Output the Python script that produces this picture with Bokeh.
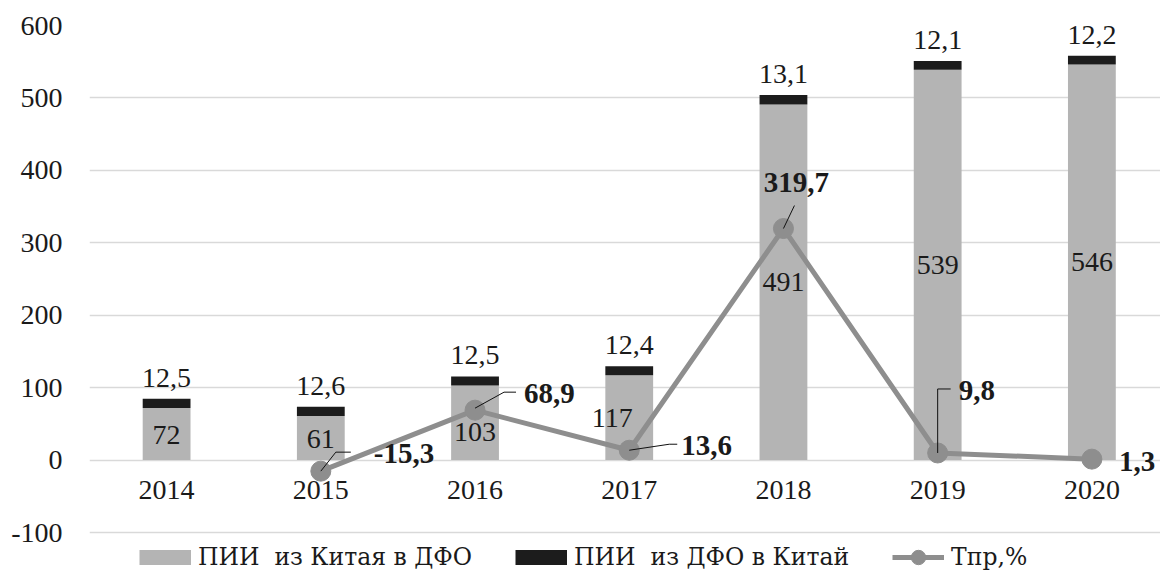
from bokeh.plotting import figure
from bokeh.models import FixedTicker, Legend, LegendItem, Range1d
from bokeh.core.properties import value
from bokeh.embed import file_html
from bokeh.resources import INLINE

# ---------------- data ----------------
years = ["2014", "2015", "2016", "2017", "2018", "2019", "2020"]
china_to_dfo = [72, 61, 103, 117, 491, 539, 546]          # ПИИ из Китая в ДФО
dfo_to_china = [12.5, 12.6, 12.5, 12.4, 13.1, 12.1, 12.2]  # ПИИ из ДФО в Китай
growth = [None, -15.3, 68.9, 13.6, 319.7, 9.8, 1.3]        # Тпр,%
y_ticks = [-100, 0, 100, 200, 300, 400, 500, 600]
legend_names = ["ПИИ  из Китая в ДФО", "ПИИ  из ДФО в Китай", "Тпр,%"]

# ---------------- styles ----------------
FONT = "Liberation Serif"
CYR_FONT = "DejaVu Serif"        # serif face with Cyrillic glyphs
FS = "28px"
FSB = "29px"
FS_LEG = "23.5px"
TXT = "#1a1a1a"
GRAY_BAR = "#b4b4b4"
DARK_BAR = "#1c1c1c"
LINE_COL = "#8e8e8e"
GRID_COL = "#d9d9d9"

W, H = 1160, 575
BL, BT, BB = 89, 25, 0
X0, X1 = -0.5, 6.445
Y1 = 600
ky = 507 / 700.0                  # px per y unit (600 -> -100 spans 507 px)
Y0 = Y1 - (H - BT - BB) / ky      # extend below -100 to host the legend
kx = (W - BL) / (X1 - X0)         # px per x unit

def fmt(v):
    return str(v).replace(".", ",")

p = figure(width=W, height=H, x_range=Range1d(X0, X1), y_range=Range1d(Y0, Y1),
           output_backend="svg", toolbar_location=None, x_axis_location=None,
           min_border_left=BL, min_border_right=0, min_border_top=BT,
           min_border_bottom=BB)
p.outline_line_color = None
p.background_fill_color = "white"
p.border_fill_color = "white"

p.xgrid.visible = False
p.ygrid.grid_line_color = GRID_COL
p.ygrid.grid_line_width = 1.5
p.ygrid.ticker = FixedTicker(ticks=y_ticks)

ax = p.yaxis[0]
ax.ticker = FixedTicker(ticks=y_ticks)
ax.major_label_overrides = {t: str(t) for t in y_ticks}
ax.axis_line_color = None
ax.major_tick_line_color = None
ax.minor_tick_line_color = None
ax.major_tick_out = 0
ax.major_tick_in = 0
ax.major_label_standoff = 27
ax.major_label_text_font = FONT
ax.major_label_text_font_size = FS
ax.major_label_text_color = TXT

xs = list(range(len(years)))
tops = [a + b for a, b in zip(china_to_dfo, dfo_to_china)]

p.vbar(x=xs, bottom=0, top=china_to_dfo, width=0.31, fill_color=GRAY_BAR, line_color=None)
p.vbar(x=xs, bottom=china_to_dfo, top=tops, width=0.31, fill_color=DARK_BAR, line_color=None)

gx = [i for i, g in enumerate(growth) if g is not None]
gy = [g for g in growth if g is not None]
r_line = p.line(gx, gy, line_width=5, line_color=LINE_COL, line_join="round")
r_pts = p.scatter(gx, gy, size=20, fill_color=LINE_COL, line_color=LINE_COL)

# year labels at the zero line
p.text(x=xs, y=[0] * len(xs), text=years, text_font=value(FONT), text_font_size=FS,
       text_color=TXT, text_align="center", text_baseline="middle", y_offset=30)

# gray segment labels (centered), with small manual shifts
gdx = [0, 0, 0, -17, 0, 0, 0]
gdy = [1, 1, 9, 0, 0, 0, 0]
p.text(x=xs, y=[v / 2 for v in china_to_dfo], text=[fmt(v) for v in china_to_dfo],
       text_font=value(FONT), text_font_size=FS, text_color=TXT,
       text_align="center", text_baseline="middle", x_offset=gdx, y_offset=gdy)

# dark segment labels above bars
p.text(x=xs, y=tops, text=[fmt(v) for v in dfo_to_china],
       text_font=value(FONT), text_font_size=FS, text_color=TXT,
       text_align="center", text_baseline="middle", y_offset=-21)

# growth labels (bold) with leader lines
lab_dx = [53, 49, 52, 13, 21, 27]
lab_dy = [-18, -17, -5, -46, -62, 2]
lab_align = ["left", "left", "left", "center", "left", "left"]
p.text(x=gx, y=gy, text=[fmt(v) for v in gy], text_font=value(FONT), text_font_size=FSB,
       text_font_style="bold", text_color=TXT, text_align=lab_align,
       text_baseline="middle", x_offset=lab_dx, y_offset=lab_dy)

leaders_px = [
    [(0, 0), (15, -19), (30, -19)],
    [(0, -2), (29, -18), (41, -18)],
    [(0, 0), (40, -6), (48, -6)],
    [(0, 0), (11, -23)],
    [(0, 0), (0, -64), (13, -64)],
    None,
]
lxs, lys = [], []
for x, y, pts in zip(gx, gy, leaders_px):
    if pts is None:
        continue
    lxs.append([x + dx / kx for dx, dy in pts])
    lys.append([y - dy / ky for dx, dy in pts])
p.multi_line(xs=lxs, ys=lys, line_color="#111111", line_width=1)

# legend-only swatches (NaN data, nothing drawn on the plot)
nan = float("nan")
sw_gray = p.line(x=xs, y=[nan] * len(xs), line_width=15, line_color=GRAY_BAR, line_cap="butt")
sw_dark = p.line(x=xs, y=[nan] * len(xs), line_width=15, line_color=DARK_BAR, line_cap="butt")

legend = Legend(items=[
    LegendItem(label=legend_names[0], renderers=[sw_gray]),
    LegendItem(label=legend_names[1], renderers=[sw_dark]),
    LegendItem(label=legend_names[2], renderers=[r_line, r_pts]),
], orientation="horizontal", location=(50, 0))
legend.label_text_font = CYR_FONT
legend.label_text_font_size = FS_LEG
legend.label_text_color = TXT
legend.glyph_width = 52
legend.glyph_height = 36
legend.label_standoff = 7
legend.spacing = 43
legend.padding = 0
legend.margin = 0
legend.border_line_color = None
legend.background_fill_alpha = 0
p.add_layout(legend, "center")

open("out.html", "w").write(file_html(p, INLINE))
